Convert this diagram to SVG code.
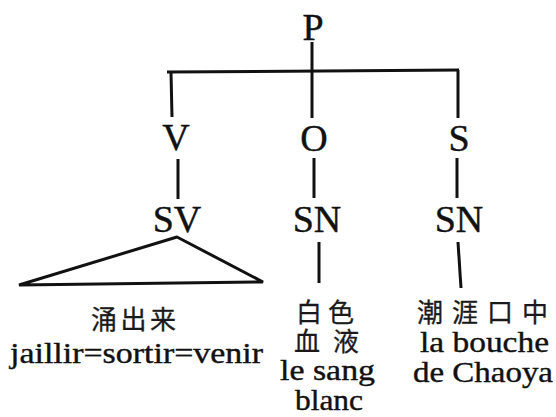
<svg xmlns="http://www.w3.org/2000/svg" width="556" height="417" viewBox="0 0 556 417">
<style>
.lbl{font-family:"Liberation Serif","Times New Roman",serif;font-size:38px;fill:#111;stroke:#111;stroke-width:0.4;text-anchor:middle}
.lat{font-family:"Liberation Serif","Times New Roman",serif;font-size:30px;fill:#111;stroke:#111;stroke-width:0.4;text-anchor:middle}
.cjk{font-family:"Noto Sans CJK SC","Noto Sans CJK TC",sans-serif;font-size:26px;font-weight:400;fill:#1a1a1a;stroke:#1a1a1a;stroke-width:0.3;text-anchor:middle}
.ln{stroke:#111;stroke-width:3;fill:none;stroke-linecap:butt;stroke-linejoin:miter}
</style>
<rect width="556" height="417" fill="#fff"/>
<g id="connectors" class="ln">
<line x1="312" y1="42" x2="312" y2="118"/>
<line x1="167" y1="72" x2="459" y2="70"/>
<line x1="171" y1="72" x2="172" y2="117"/>
<line x1="458" y1="70" x2="458" y2="118"/>
<line x1="178" y1="159" x2="178" y2="199"/>
<line x1="314" y1="158" x2="314" y2="198"/>
<line x1="457" y1="158" x2="457" y2="198"/>
<polygon points="177,237 19,285 263,282"/>
<line x1="319" y1="242" x2="319" y2="283"/>
<line x1="458" y1="242" x2="461" y2="288"/>
</g>
<g id="P"><text class="lbl" x="313" y="40">P</text></g>
<g id="V"><text class="lbl" x="176" y="150">V</text></g>
<g id="O"><text class="lbl" x="314" y="151">O</text></g>
<g id="S"><text class="lbl" x="459" y="151">S</text></g>
<g id="SV"><text class="lbl" x="177" y="232">SV</text></g>
<g id="SN1"><text class="lbl" x="317" y="232">SN</text></g>
<g id="SN2"><text class="lbl" x="459" y="232">SN</text></g>
<g id="leaf-SV">
<text class="cjk" x="133.5" y="329" textLength="85" lengthAdjust="spacing">涌出来</text>
<text class="lat" x="136.5" y="363" textLength="253" lengthAdjust="spacingAndGlyphs">jaillir=sortir=venir</text>
</g>
<g id="leaf-SN1">
<text class="cjk" x="325" y="322" textLength="58" lengthAdjust="spacing">白色</text>
<text class="cjk" x="326.5" y="351" textLength="65" lengthAdjust="spacing">血液</text>
<text class="lat" x="327.5" y="380" textLength="95" lengthAdjust="spacingAndGlyphs">le sang</text>
<text class="lat" x="329" y="410" textLength="68" lengthAdjust="spacingAndGlyphs">blanc</text>
</g>
<g id="leaf-SN2">
<text class="cjk" x="482.5" y="322" textLength="131" lengthAdjust="spacing">潮涯口中</text>
<text class="lat" x="484.5" y="352" textLength="129" lengthAdjust="spacingAndGlyphs">la bouche</text>
<text class="lat" x="483" y="382" textLength="140" lengthAdjust="spacingAndGlyphs">de Chaoya</text>
</g>
</svg>
